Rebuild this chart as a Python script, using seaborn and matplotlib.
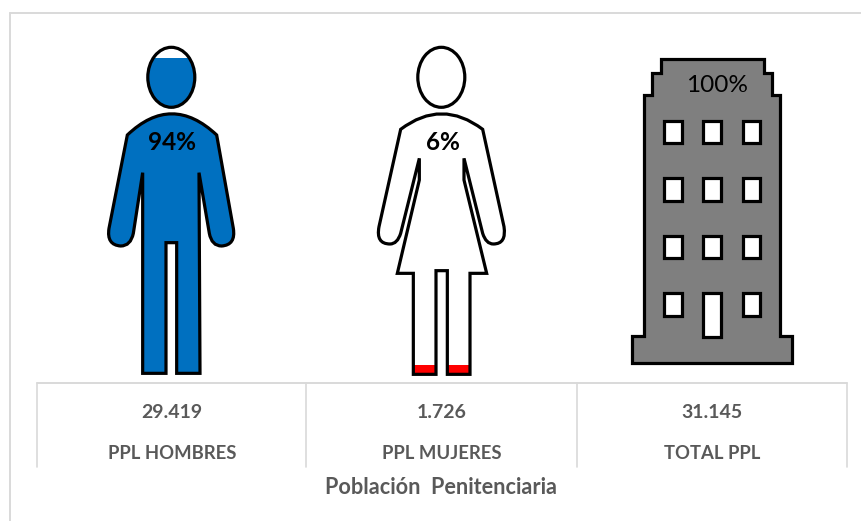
import matplotlib
matplotlib.use("Agg")
import matplotlib.pyplot as plt
from matplotlib.lines import Line2D
from matplotlib.patches import PathPatch, Rectangle
from matplotlib.path import Path
from matplotlib.transforms import Affine2D
import seaborn as sns

# Data
categorias = ['PPL HOMBRES', 'PPL MUJERES', 'TOTAL PPL']
porcentajes = [94, 6, 100]
etiquetas_pct = ['94%', '6%', '100%']
valores = ['29.419', '1.726', '31.145']
colores = ['#0070C0', '#FF0000', '#7F7F7F']
titulo = 'Población  Penitenciaria'

W, H = 861, 521
sns.set_theme(style="white")
plt.rcParams['font.family'] = ['Lato', 'DejaVu Sans']

fig = plt.figure(figsize=(W / 100, H / 100), dpi=100, facecolor='white')

# Pixel coordinates of the reference (origin top left)
px = Affine2D().scale(1, -1).translate(0, H)
M, L, C3, Z = Path.MOVETO, Path.LINETO, Path.CURVE3, Path.CLOSEPOLY


def silueta(puntos, ox, oy):
    # zoomed coordinates (3x) to pixels
    verts = [(ox + x / 3, oy + y / 3) for x, y, _ in puntos]
    return Path(verts, [c for _, _, c in puntos])


def cabeza(cx, cy, w, h):
    return Path.unit_circle().transformed(Affine2D().scale(w / 2, h / 2).translate(cx, cy))


hombre = [
    (112, 315, M), (245, 188, C3), (380, 315, C3), (430, 595, L),
    (438, 645, C3), (395, 648, C3), (365, 648, C3), (358, 610, C3),
    (327, 428, L), (330, 1030, L), (260, 1030, L), (260, 638, L),
    (228, 638, L), (228, 1030, L), (158, 1030, L), (158, 428, L),
    (130, 610, L), (122, 648, C3), (92, 648, C3), (49, 645, C3), (57, 595, C3),
    (112, 315, Z),
]
mujer = [
    (122, 298, M), (245, 205, C3), (368, 298, C3), (432, 590, L),
    (440, 642, C3), (400, 642, C3), (378, 642, C3), (368, 610, C3),
    (312, 385, L), (312, 450, L), (380, 730, L), (330, 730, L), (330, 1033, L),
    (262, 1033, L), (262, 722, L), (228, 722, L), (228, 1033, L),
    (160, 1033, L), (160, 730, L), (112, 730, L), (178, 450, L), (178, 385, L),
    (122, 610, L), (112, 642, C3), (90, 642, C3), (47, 642, C3), (57, 590, C3),
    (122, 298, Z),
]
edificio = [
    (122, 58, M), (432, 58, L), (432, 100, L), (455, 100, L), (455, 165, L),
    (480, 165, L), (480, 888, L), (515, 888, L), (515, 970, L), (36, 970, L),
    (36, 888, L), (72, 888, L), (72, 165, L), (97, 165, L), (97, 100, L),
    (122, 100, L), (122, 58, Z),
]

cuerpo_h = silueta(hombre, 90, 30)
cuerpo_m = silueta(mujer, 360, 30)
cuerpo_e = silueta(edificio, 620, 40)
cabeza_h = cabeza(171.3, 77.3, 47, 60)
cabeza_m = cabeza(441.3, 77.3, 47, 60)

formas = [
    Path.make_compound_path(cabeza_h, cuerpo_h),
    Path.make_compound_path(cabeza_m, cuerpo_m),
    cuerpo_e,
]

# Frame: left and top only, the top line runs off the right edge
for xs, ys in [((10, 10), (521, 13)), ((10, 861), (13, 13))]:
    fig.add_artist(Line2D(xs, ys, color='#D9D9D9', lw=1.4, transform=px))

# Axes spans the table width; the 0-100 scale runs from y=386 up to y=37 px
ax = fig.add_axes([37 / W, 1 - 386 / H, (847 - 37) / W, (386 - 37) / H])
ax.patch.set_alpha(0)
sns.barplot(x=categorias, y=porcentajes, hue=categorias, palette=colores,
            dodge=False, legend=False, width=0.8, saturation=1, ax=ax)
ax.set_xlim(-0.5, 2.5)
ax.set_ylim(0, 100)
ax.set_ylabel('')
ax.set_yticks([])
sns.despine(ax=ax, left=True, bottom=True)

# Bars only show through the silhouettes
for barra, forma in zip(ax.patches, formas):
    barra.set_clip_path(forma, px)
    barra.set_linewidth(0)

# Outlines
for forma in [cabeza_h, cuerpo_h, cabeza_m, cuerpo_m, cuerpo_e]:
    ax.add_patch(PathPatch(forma, fc='none', ec='black', lw=2.3, transform=px,
                           clip_on=False, joinstyle='miter'))

# Building windows and door
for wy0, wy1 in [(242, 310), (415, 483), (588, 655), (760, 828)]:
    for wx0, wx1 in [(132, 185), (250, 303), (368, 421)]:
        alto = 892 - wy0 if (wx0 == 250 and wy0 == 760) else wy1 - wy0
        ax.add_patch(Rectangle((620 + wx0 / 3, 40 + wy0 / 3), (wx1 - wx0) / 3, alto / 3,
                               fc='white', ec='black', lw=2.3, transform=px, clip_on=False))

# Percent labels
pct_pos = [(172, 143, 'bold'), (443, 143, 'bold'), (717, 86, 'normal')]
for texto, (x, y, peso) in zip(etiquetas_pct, pct_pos):
    ax.text(x, y, texto, transform=px, ha='center', va='center', fontsize=17.6,
            fontweight=peso, color='black')

# Table under the icons
fig.add_artist(Line2D((37, 847), (383, 383), color='#D9D9D9', lw=1.4, transform=px))
for x in [37, 306, 577, 847]:
    fig.add_artist(Line2D((x, x), (383, 467), color='#D9D9D9', lw=1.2, transform=px))

ax.set_xticks(range(len(categorias)))
ax.set_xticklabels(categorias, fontsize=13.3, fontweight='bold', color='#595959')
ax.tick_params(axis='x', length=0, pad=(445 - 386) * 0.72)
for i, valor in enumerate(valores):
    ax.annotate(valor, xy=(i, 0), xytext=(0, -(412 - 386) * 0.72), textcoords='offset points',
                ha='center', va='center', fontsize=14, fontweight='bold', color='#595959',
                annotation_clip=False)

fig.text(441 / W, 1 - 488 / H, titulo, ha='center', va='center', fontsize=15.6,
         fontweight='bold', color='#595959')

fig.savefig('out.png', dpi=100)
